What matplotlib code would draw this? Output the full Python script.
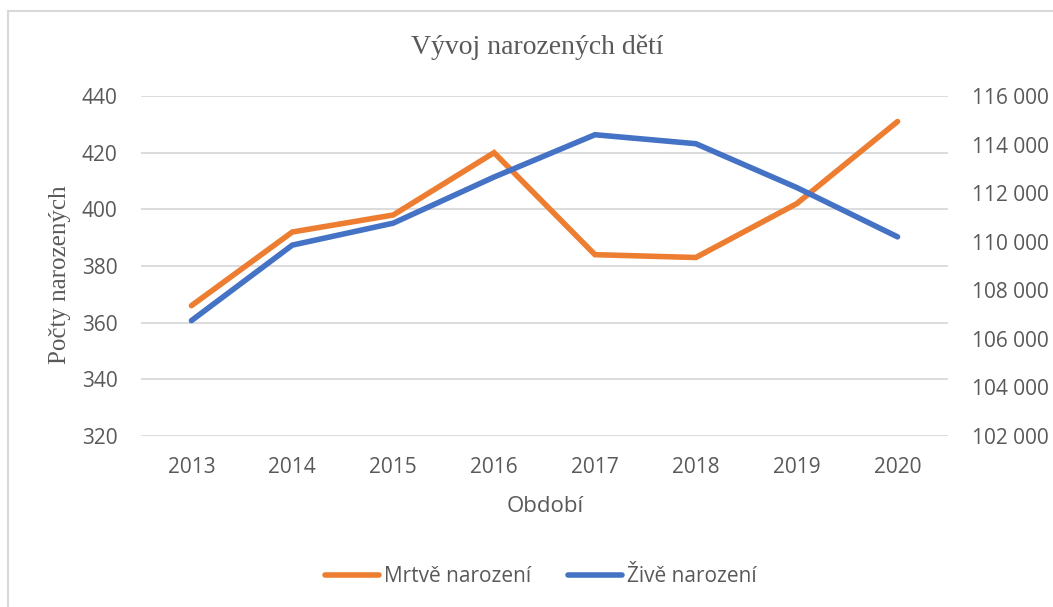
import matplotlib.pyplot as plt
from matplotlib.lines import Line2D
from matplotlib.ticker import FuncFormatter

# data
years = ["2013", "2014", "2015", "2016", "2017", "2018", "2019", "2020"]
mrtve = [366, 392, 398, 420, 384, 383, 402, 431]  # left axis
zive = [106751, 109860, 110764, 112663, 114405, 114036, 112231, 110200]  # right axis

left_ticks = [320, 340, 360, 380, 400, 420, 440]
right_ticks = [102000, 104000, 106000, 108000, 110000, 112000, 114000, 116000]

orange = "#ED7D31"
blue = "#4472C4"
txt = "#595959"
grid = "#D9D9D9"
sans = "Open Sans"
serif = "Liberation Serif"

W, H = 1053, 607
fig = plt.figure(figsize=(W / 100, H / 100), dpi=100)

# axes placed in pixel terms of the reference
x0, x1, y0, y1 = 141, 948, 96, 436
ax = fig.add_axes([x0 / W, 1 - y1 / H, (x1 - x0) / W, (y1 - y0) / H])
ax2 = ax.twinx()

xs = list(range(len(years)))
ax.plot(xs, mrtve, color=orange, lw=4, solid_capstyle="round", solid_joinstyle="miter", zorder=3)
ax2.plot(xs, zive, color=blue, lw=4, solid_capstyle="round", solid_joinstyle="miter", zorder=3)

ax.set_xlim(-0.5, len(years) - 0.5)
ax.set_ylim(left_ticks[0], left_ticks[-1])
ax2.set_ylim(right_ticks[0], right_ticks[-1])
ax.set_yticks(left_ticks)
ax2.set_yticks(right_ticks)
ax.set_xticks(xs)
ax.set_xticklabels(years)
ax2.yaxis.set_major_formatter(FuncFormatter(lambda v, p: f"{int(v):,}".replace(",", " ")))

ax.grid(axis="y", color=grid, lw=1.3)
ax.set_axisbelow(True)
for a in (ax, ax2):
    for s in a.spines.values():
        s.set_visible(False)
    a.tick_params(length=0, labelsize=15, labelcolor=txt)
    for lab in a.get_xticklabels() + a.get_yticklabels():
        lab.set_fontfamily(sans)
ax.tick_params(axis="y", pad=17)
ax2.tick_params(axis="y", pad=17)
ax.tick_params(axis="x", pad=15)
ax2.set_zorder(ax.get_zorder() + 1)
ax2.patch.set_visible(False)

# texts
fig.text(537 / W, 1 - 47 / H, "Vývoj narozených dětí", family=serif, fontsize=20,
         color=txt, ha="center", va="center")
fig.text(60 / W, 1 - 275 / H, "Počty narozených", family=serif, fontsize=18,
         color=txt, ha="center", va="center", rotation=90)
fig.text(545 / W, 1 - 507 / H, "Období", family=sans, fontsize=16,
         color=txt, ha="center", va="center")

handles = [Line2D([], [], color=orange, lw=4, solid_capstyle="round"),
           Line2D([], [], color=blue, lw=4, solid_capstyle="round")]
leg = fig.legend(handles, ["Mrtvě narození", "Živě narození"], loc="center",
                 bbox_to_anchor=(541 / W, 1 - 577 / H), ncol=2, frameon=False,
                 handlelength=2.6, handletextpad=0.25, columnspacing=1.75,
                 prop={"family": sans, "size": 15})
for t in leg.get_texts():
    t.set_color(txt)

# light frame of the chart area (top and left edges visible)
fig.add_artist(Line2D([8 / W, 8 / W], [0, 1 - 11 / H], color="#D9D9D9", lw=1.5))
fig.add_artist(Line2D([8 / W, 1], [1 - 11 / H, 1 - 11 / H], color="#D9D9D9", lw=1.5))

fig.savefig("out.png", dpi=100)
